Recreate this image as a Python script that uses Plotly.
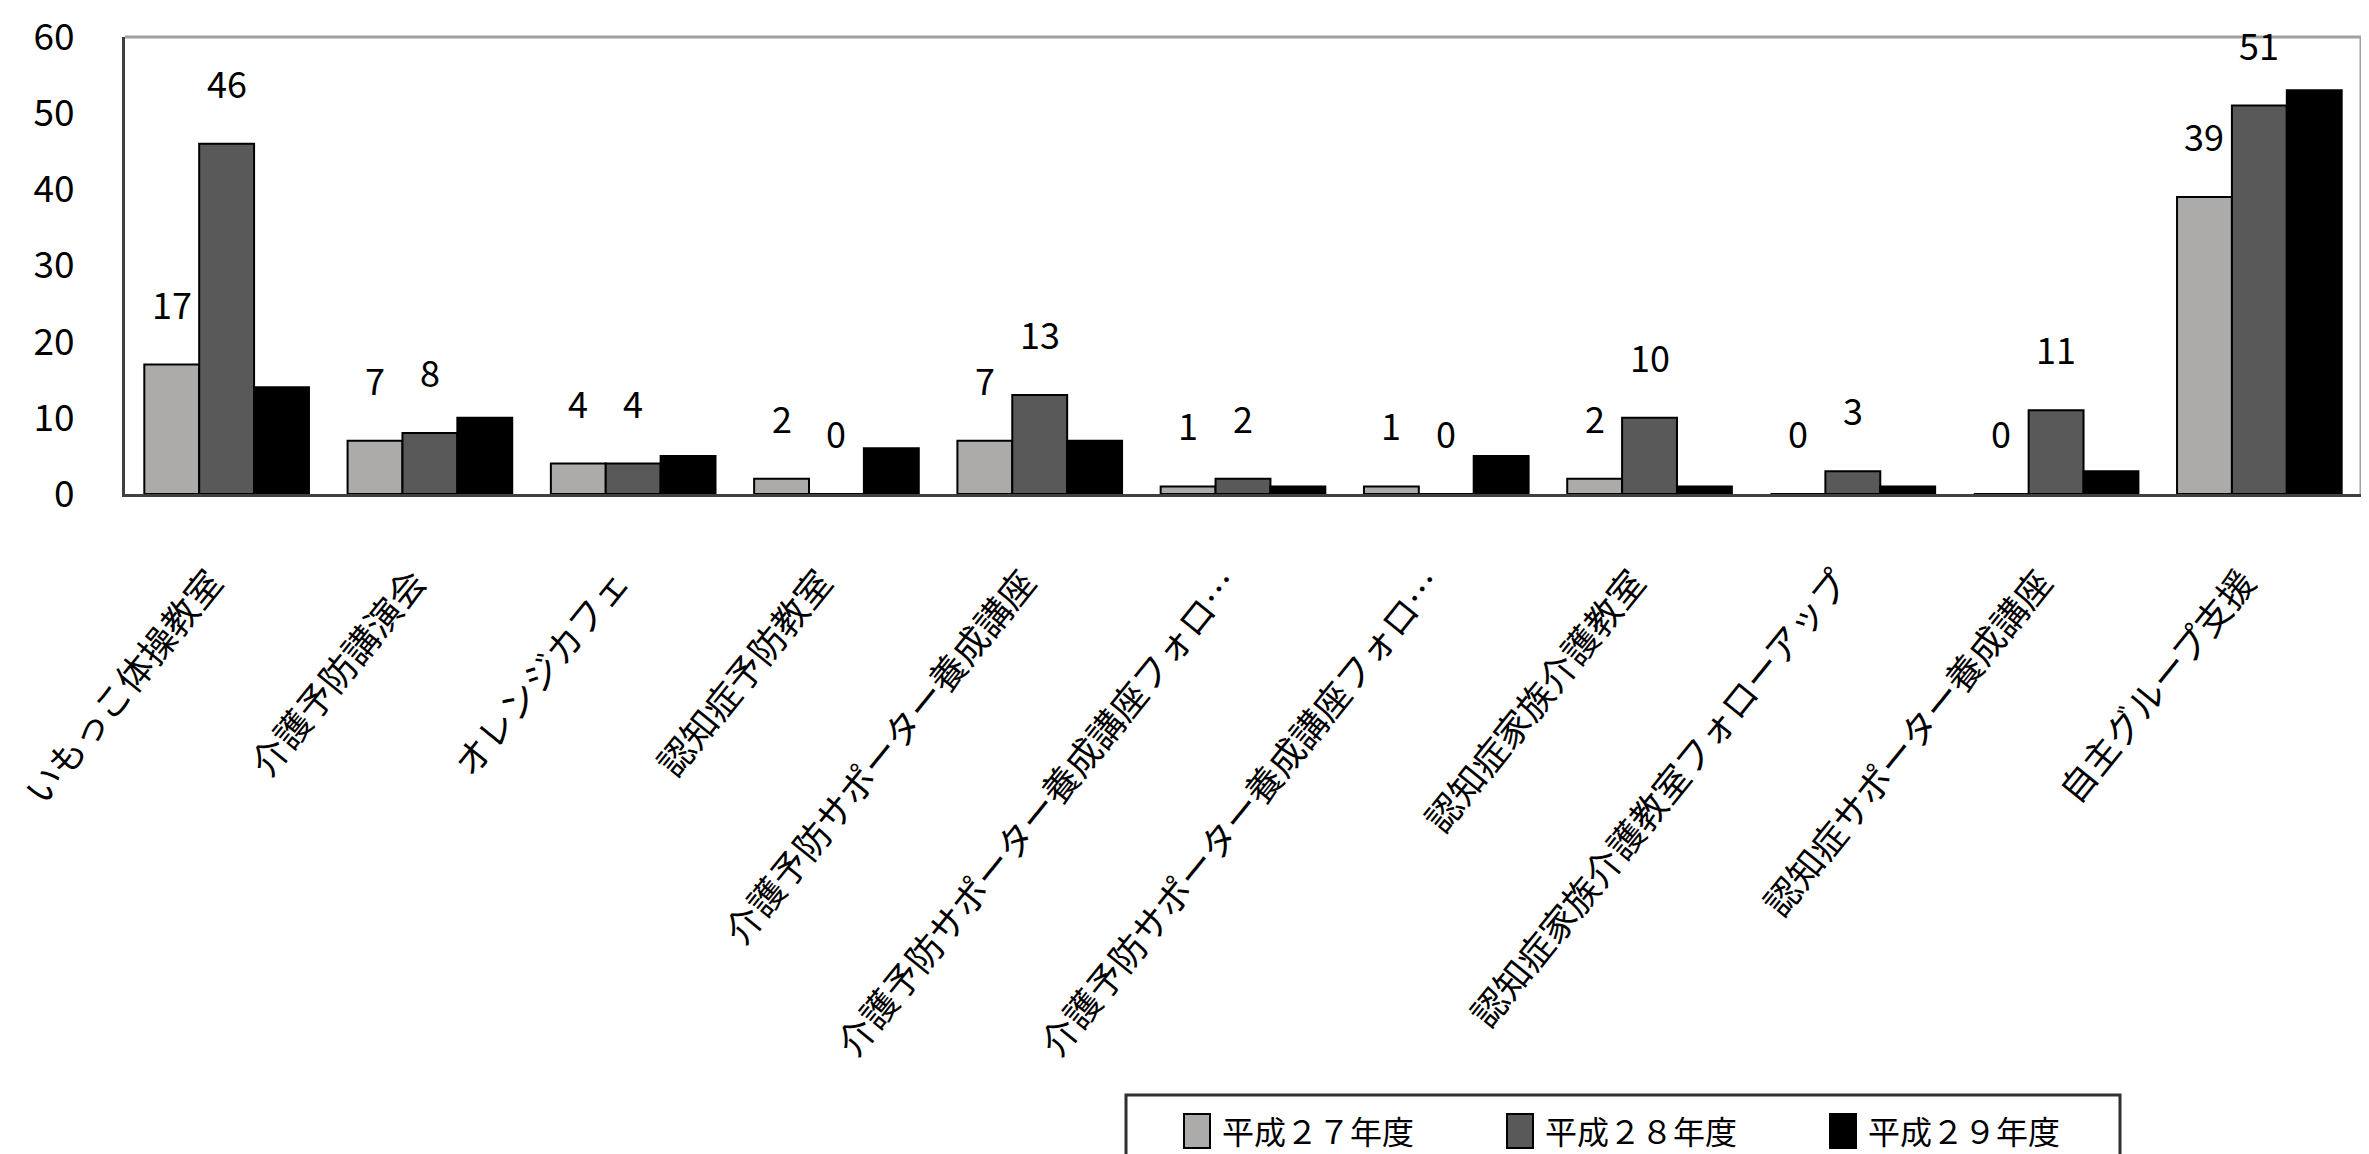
import plotly.graph_objects as go

# ---- data ----
tick_labels = [
    "いもっこ体操教室",
    "介護予防講演会",
    "オレンジカフェ",
    "認知症予防教室",
    "介護予防サポーター養成講座",
    "介護予防サポーター養成講座フォロ…",
    "介護予防サポーター養成講座フォロ…",
    "認知症家族介護教室",
    "認知症家族介護教室フォローアップ",
    "認知症サポーター養成講座",
    "自主グループ支援",
]
series_names = ["平成２７年度", "平成２８年度", "平成２９年度"]
h27 = [17, 7, 4, 2, 7, 1, 1, 2, 0, 0, 39]
h28 = [46, 8, 4, 0, 13, 2, 0, 10, 3, 11, 51]
h29 = [14, 10, 5, 6, 7, 1, 5, 1, 1, 3, 53]
y_ticks = [0, 10, 20, 30, 40, 50, 60]

# ---- styling ----
FONT = "Noto Sans CJK JP"
colors = ["#ADAAAA", "#595959", "#000000"]
W, H = 2369, 1154
ML, MR, MT, MB = 117, 16, 29, 668
BARGAP = 0.19

positions = list(range(len(tick_labels)))
values = [h27, h28, h29]

fig = go.Figure()
for name, vals, col in zip(series_names, values, colors):
    fig.add_trace(go.Bar(
        x=positions, y=vals, name=name, showlegend=False,
        marker=dict(color=col, line=dict(color="#000000", width=2)),
    ))

# data labels for the first two series
nser = len(values)
bw = (1 - BARGAP) / nser
for k in range(2):
    for i, v in enumerate(values[k]):
        fig.add_annotation(
            x=positions[i] + (k - (nser - 1) / 2) * bw, y=v,
            text=str(v), showarrow=False, xref="x", yref="y",
            yanchor="middle", yshift=62,
            font=dict(family=FONT, size=36, color="#000000"),
        )

plot_h = H - MT - MB
plot_w = W - ML - MR
def py(px):
    return (H - MB - px) / plot_h
def pxx(px):
    return (px - ML) / plot_w

# gray top & right frame lines
fig.add_shape(type="line", xref="paper", yref="paper", x0=0, x1=1, y0=1, y1=1,
              line=dict(color="#A0A0A0", width=3))
fig.add_shape(type="line", xref="paper", yref="paper", x0=1, x1=1, y0=0, y1=1,
              line=dict(color="#A0A0A0", width=3))

# legend (box, swatches, labels)
fig.add_shape(type="rect", xref="paper", yref="paper",
              x0=pxx(1118), x1=pxx(2112), y0=py(1087), y1=py(1170),
              line=dict(color="#303030", width=3), fillcolor="rgba(0,0,0,0)")
LEG_X0, LEG_STEP = 1176, 323
for k, (name, col) in enumerate(zip(series_names, colors)):
    sx = LEG_X0 + k * LEG_STEP
    fig.add_shape(type="rect", xref="paper", yref="paper",
                  x0=pxx(sx), x1=pxx(sx + 26), y0=py(1106), y1=py(1140),
                  line=dict(color="#000000", width=2), fillcolor=col)
    fig.add_annotation(x=pxx(sx + 36), y=py(1122), xref="paper", yref="paper",
                       text=name, showarrow=False, xanchor="left", yanchor="middle",
                       font=dict(family=FONT, size=32, color="#000000"))

fig.update_layout(
    width=W, height=H,
    margin=dict(l=ML, r=MR, t=MT, b=MB, autoexpand=False),
    paper_bgcolor="white", plot_bgcolor="white",
    barmode="group", bargap=BARGAP, bargroupgap=0,
    font=dict(family=FONT, color="#000000"),
    showlegend=False,
    xaxis=dict(
        range=[-0.5, len(tick_labels) - 0.5], automargin=False,
        tickmode="array", tickvals=positions, ticktext=tick_labels,
        tickangle=-51, ticks="", showgrid=False, zeroline=False,
        showline=True, linecolor="#404040", linewidth=3,
        tickfont=dict(family=FONT, size=36, color="#000000"),
        ticklabelstandoff=50, ticklabelshift=-16,
        ticklabeloverflow="allow",
    ),
    yaxis=dict(
        range=[0, 60], automargin=False, tickmode="array", tickvals=y_ticks,
        ticks="", showgrid=False, zeroline=False,
        showline=True, linecolor="#404040", linewidth=3,
        tickfont=dict(family=FONT, size=37, color="#000000"),
        ticklabelstandoff=40, ticklabeloverflow="allow",
    ),
)

fig.write_html("out.html")
